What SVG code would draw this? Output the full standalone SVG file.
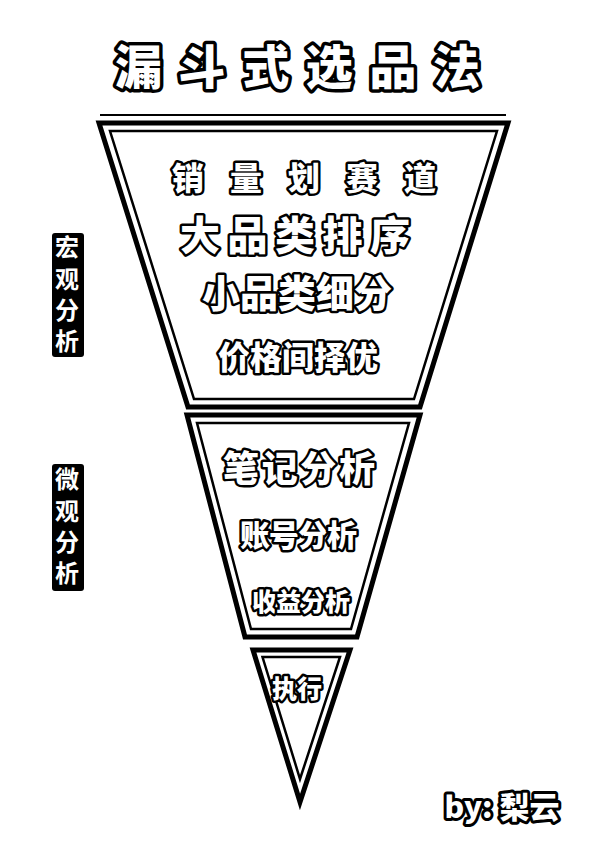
<svg xmlns="http://www.w3.org/2000/svg" width="595" height="842" viewBox="0 0 595 842">
<style>
.cjk{font-family:"Noto Sans CJK SC","Noto Sans",sans-serif;font-weight:900;fill:#fff;stroke:#000;stroke-linejoin:round;paint-order:stroke;text-anchor:middle;dominant-baseline:central}
.outer{fill:#fff;stroke:#000;stroke-width:5;stroke-linejoin:miter}
.inner{fill:none;stroke:#000;stroke-width:2.5;stroke-linejoin:miter}
.side{font-family:"Noto Sans CJK SC","Noto Sans",sans-serif;font-weight:700;fill:#fff;writing-mode:vertical-rl;text-anchor:start;font-size:24px;letter-spacing:7.4px}
</style>
<rect width="595" height="842" fill="#fff"/>
<g id="title">
<text class="cjk" style="font-size:47px;stroke-width:7" x="138.5 202.1 265.7 329.3 392.9 456.5" y="63">漏斗式选品法</text>
</g>
<g id="stage-macro">
<line x1="100" y1="115" x2="506" y2="115" stroke="#000" stroke-width="2"/>
<polygon class="outer" points="99,123 508,123 420,407 188,407"/>
<polygon class="inner" points="110,131 497,131 414,399 194,399"/>
<text class="cjk" style="font-size:32px;stroke-width:5" x="188 246 304 362 420" y="176">销量划赛道</text>
<text class="cjk" style="font-size:40px;stroke-width:5" x="200 247.5 295 342.5 390" y="233">大品类排序</text>
<text class="cjk" style="font-size:38px;stroke-width:5" x="221 259 297 335 373" y="290">小品类细分</text>
<text class="cjk" style="font-size:32px;stroke-width:5" x="234 266 298 330 362" y="355">价格间择优</text>
</g>
<g id="stage-micro">
<polygon class="outer" points="187,415 420,415 357,637 245,637"/>
<polygon class="inner" points="197,423 409,423 351,629 251,629"/>
<text class="cjk" style="font-size:36px;stroke-width:5" x="241 279.7 318.3 357" y="466">笔记分析</text>
<text class="cjk" style="font-size:30px;stroke-width:5" x="255 284 313 342" y="533">账号分析</text>
<text class="cjk" style="font-size:25px;stroke-width:5" x="264.5 288.8 313.2 337.5" y="600">收益分析</text>
</g>
<g id="stage-execute">
<polygon class="outer" points="253,650 350,650 300,802"/>
<polygon class="inner" points="262.5,657 340,657 300,779"/>
<text class="cjk" style="font-size:25px;stroke-width:5" x="284.5 309.5" y="687">执行</text>
</g>
<g id="label-macro">
<rect x="52" y="233" width="32" height="124" rx="3" fill="#000"/>
<text class="side" x="67" y="235">宏观分析</text>
</g>
<g id="label-micro">
<rect x="52" y="464" width="32" height="127" rx="3" fill="#000"/>
<text class="side" x="67" y="467">微观分析</text>
</g>
<g id="author">
<text class="cjk" style="font-size:30px;stroke-width:6" x="502" y="805">by: 梨云</text>
</g>
<g id="connectors"/>
</svg>
